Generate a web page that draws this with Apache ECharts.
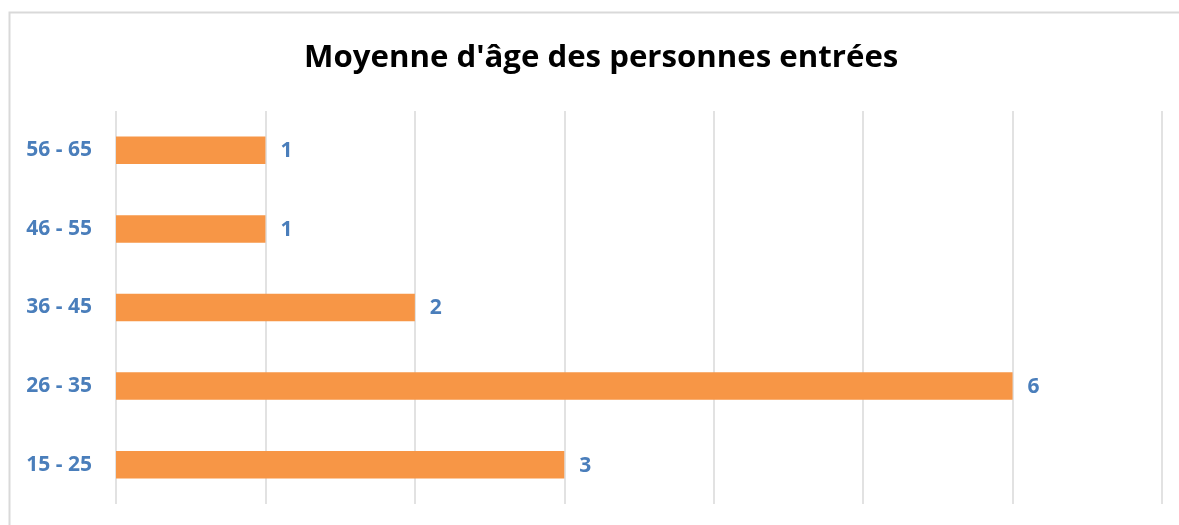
<!DOCTYPE html>
<html>
<head>
<meta charset="utf-8">
<script src="https://cdn.jsdelivr.net/npm/echarts@6/dist/echarts.min.js"></script>
<style>
  html, body { margin: 0; padding: 0; background: #ffffff; }
  #chart { width: 1179px; height: 525px; }
</style>
</head>
<body>
<div id="chart"></div>
<script>
// Age groups (bottom to top) and number of people in each group
const ageGroups = ['15 - 25', '26 - 35', '36 - 45', '46 - 55', '56 - 65'];
const counts = [3, 6, 2, 1, 1];
const chartTitle = "Moyenne d'âge des personnes entrées";

const labelBlue = '#4A7EBB';
const barOrange = '#F79646';
const gridGrey = '#D9D9D9';
const fontFamily = '"Open Sans", "Noto Sans", "Liberation Sans", sans-serif';

const chart = echarts.init(document.getElementById('chart'), null, { renderer: 'canvas' });

chart.setOption({
  backgroundColor: '#ffffff',
  animation: false,
  title: {
    text: chartTitle,
    left: 299,
    top: 38,
    textStyle: {
      fontFamily: fontFamily,
      fontWeight: 'bold',
      fontSize: 31.2,
      color: '#000000'
    }
  },
  graphic: [{
    type: 'rect',
    shape: { x: 9.5, y: 12.5, width: 1200, height: 600 },
    style: { fill: 'none', stroke: gridGrey, lineWidth: 2 },
    silent: true,
    z: -1
  }],
  grid: {
    left: 116,
    right: 17,
    top: 111,
    bottom: 21,
    containLabel: false
  },
  xAxis: {
    type: 'value',
    min: 0,
    max: 7,
    interval: 1,
    axisLine: { show: false },
    axisTick: { show: false },
    axisLabel: { show: false },
    splitLine: { show: true, lineStyle: { color: gridGrey, width: 1.5 } }
  },
  yAxis: {
    type: 'category',
    data: ageGroups,
    axisLine: { show: false },
    axisTick: { show: false },
    axisLabel: {
      margin: 24,
      color: labelBlue,
      fontFamily: fontFamily,
      fontWeight: 'bold',
      fontSize: 21
    }
  },
  series: [{
    type: 'bar',
    data: counts,
    barWidth: '35%',
    itemStyle: { color: barOrange },
    label: {
      show: true,
      position: 'right',
      distance: 15,
      offset: [0, 1],
      color: labelBlue,
      fontFamily: fontFamily,
      fontWeight: 'bold',
      fontSize: 21
    }
  }]
});
</script>
</body>
</html>
